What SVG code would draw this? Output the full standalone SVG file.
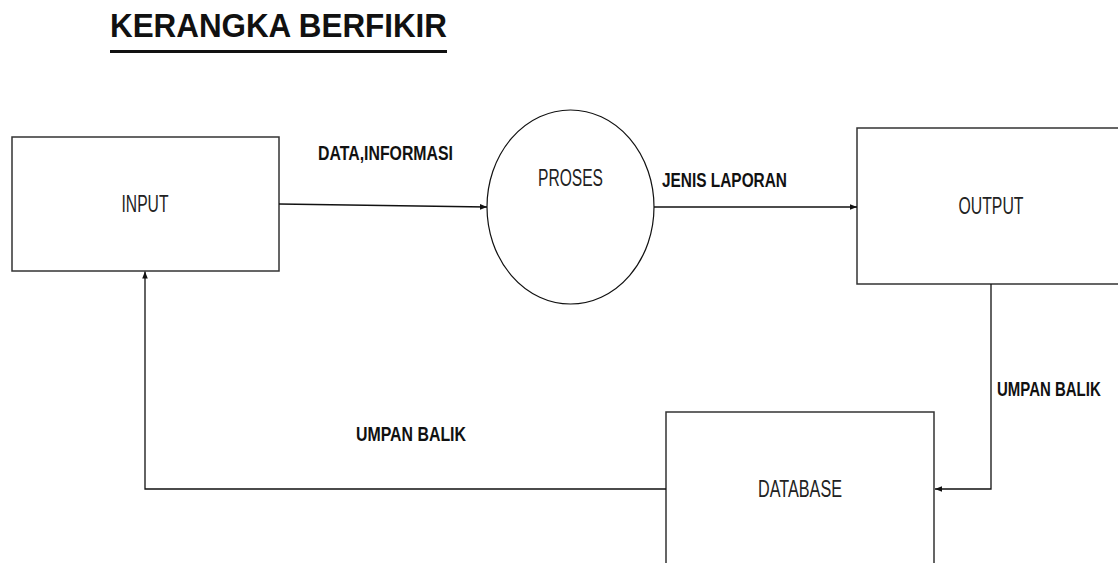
<svg xmlns="http://www.w3.org/2000/svg" width="1118" height="563" viewBox="0 0 1118 563">
<style>
  .box { fill: #fff; stroke: #333; stroke-width: 1.5; }
  .lbl { font-family: "Liberation Sans", Arial, sans-serif; font-size: 24px; fill: #222; text-anchor: middle; }
  .bl { font-family: "Liberation Sans", Arial, sans-serif; font-size: 20px; font-weight: bold; fill: #111; }
  .conn { fill: none; stroke: #111; stroke-width: 1.3; }
</style>
<defs>
  <marker id="arr" viewBox="0 0 10 10" refX="10" refY="5" markerWidth="7" markerHeight="7" markerUnits="userSpaceOnUse" orient="auto">
    <path d="M0,1 L10,5 L0,9 Z" fill="#111"/>
  </marker>
</defs>
<rect width="1118" height="563" fill="#fff"/>
<g id="title">
  <text x="110" y="37" font-family="Liberation Sans, Arial, sans-serif" font-size="33" font-weight="bold" fill="#111" textLength="337" lengthAdjust="spacingAndGlyphs">KERANGKA BERFIKIR</text>
  <rect x="110" y="50" width="337" height="3" fill="#111"/>
</g>
<g id="input">
  <rect class="box" x="12" y="137" width="267" height="134"/>
  <text class="lbl" x="145" y="211.5" font-size="25" textLength="47" lengthAdjust="spacingAndGlyphs">INPUT</text>
</g>
<g id="proses">
  <ellipse cx="570.5" cy="207" rx="83.5" ry="97" fill="#fff" stroke="#111" stroke-width="1.2"/>
  <text class="lbl" x="570.5" y="186" textLength="65" lengthAdjust="spacingAndGlyphs">PROSES</text>
</g>
<g id="output">
  <path class="box" d="M1120,128 L857,128 L857,284 L1120,284"/>
  <text class="lbl" x="991" y="214" textLength="65" lengthAdjust="spacingAndGlyphs">OUTPUT</text>
</g>
<g id="database">
  <path class="box" d="M666,566 L666,412 L934,412 L934,566"/>
  <text class="lbl" x="800" y="497" textLength="84" lengthAdjust="spacingAndGlyphs">DATABASE</text>
</g>
<g id="connectors">
  <line class="conn" x1="279" y1="204" x2="487" y2="207" marker-end="url(#arr)"/>
  <line class="conn" x1="654" y1="207" x2="857" y2="207" marker-end="url(#arr)"/>
  <polyline class="conn" points="991,284 991,489 935,489" marker-end="url(#arr)"/>
  <polyline class="conn" points="666,489 145,489 145,271.5" marker-end="url(#arr)"/>
</g>
<g id="labels">
  <text class="bl" x="318" y="160" font-size="21" textLength="135" lengthAdjust="spacingAndGlyphs">DATA,INFORMASI</text>
  <text class="bl" x="662" y="187" textLength="125" lengthAdjust="spacingAndGlyphs">JENIS LAPORAN</text>
  <text class="bl" transform="translate(997,396) scale(0.75,1)" x="0" y="0">UMPAN BALIK</text>
  <text class="bl" x="356" y="441" textLength="110" lengthAdjust="spacingAndGlyphs">UMPAN BALIK</text>
</g>
</svg>
